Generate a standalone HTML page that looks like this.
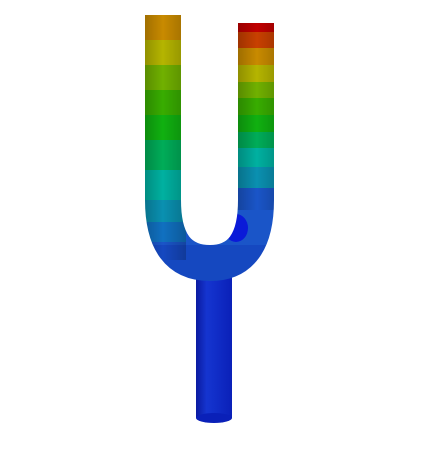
<!DOCTYPE html>
<html><head><style>
html,body{margin:0;padding:0;background:#fff;width:425px;height:456px;overflow:hidden}
</style></head><body>
<svg width="425" height="456" viewBox="0 0 425 456" xmlns="http://www.w3.org/2000/svg">
<defs>
<mask id="m">
<path d="M163 15 L163 200 Q163 263 210 263 Q256 263 256 200 L256 23" stroke="#fff" stroke-width="36" fill="none" stroke-linecap="butt"/>
</mask>
<linearGradient id="shL" x1="0" x2="1"><stop offset="0" stop-color="#000" stop-opacity="0.25"/><stop offset="0.5" stop-color="#000" stop-opacity="0"/><stop offset="1" stop-color="#000" stop-opacity="0.2"/></linearGradient>
<linearGradient id="stemG" x1="0" x2="1"><stop offset="0" stop-color="#0a1aa0"/><stop offset="0.3" stop-color="#1535d0"/><stop offset="1" stop-color="#0a20b8"/></linearGradient>
</defs>
<g>
<rect x="196" y="265" width="36" height="153" fill="url(#stemG)"/>
<ellipse cx="214" cy="418" rx="18" ry="5" fill="#0a20b8"/>
</g>
<g mask="url(#m)">
<rect x="120" y="180" width="180" height="120" fill="#1a55c8"/>
<rect x="120" y="245" width="180" height="55" fill="#1548c0"/>
<rect x="140" y="10" width="46" height="30" fill="#c88a00"/>
<rect x="140" y="40" width="46" height="25" fill="#b4b400"/>
<rect x="140" y="65" width="46" height="25" fill="#70b000"/>
<rect x="140" y="90" width="46" height="25" fill="#38ac00"/>
<rect x="140" y="115" width="46" height="25" fill="#10b010"/>
<rect x="140" y="140" width="46" height="30" fill="#00ac58"/>
<rect x="140" y="170" width="46" height="30" fill="#00b0a0"/>
<rect x="140" y="200" width="46" height="22" fill="#0a90b0"/>
<rect x="140" y="222" width="46" height="20" fill="#1070c0"/>
<rect x="234" y="18" width="46" height="14" fill="#c00000"/>
<rect x="234" y="32" width="46" height="16" fill="#c84000"/>
<rect x="234" y="48" width="46" height="17" fill="#c88a00"/>
<rect x="234" y="65" width="46" height="17" fill="#b4b400"/>
<rect x="234" y="82" width="46" height="16" fill="#70b000"/>
<rect x="234" y="98" width="46" height="17" fill="#38ac00"/>
<rect x="234" y="115" width="46" height="17" fill="#10b010"/>
<rect x="234" y="132" width="46" height="16" fill="#00ac58"/>
<rect x="234" y="148" width="46" height="19" fill="#00b0a0"/>
<rect x="234" y="167" width="46" height="21" fill="#0a90b0"/>
<ellipse cx="236" cy="228" rx="12" ry="14" fill="#0a1ad8"/>
<rect x="140" y="10" width="46" height="250" fill="url(#shL)"/>
<rect x="234" y="10" width="46" height="200" fill="url(#shL)"/>
</g>
</svg>
</body></html>
